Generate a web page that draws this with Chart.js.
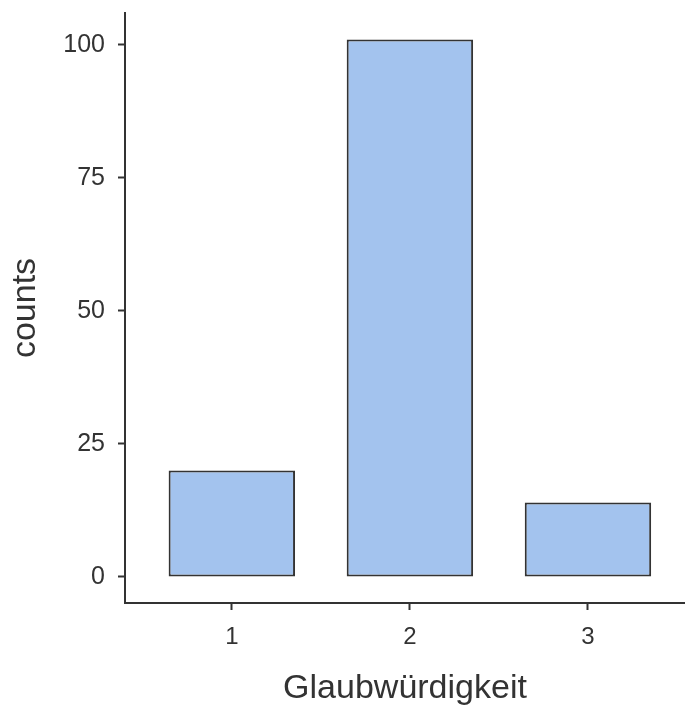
<!DOCTYPE html>
<html>
<head>
<meta charset="utf-8">
<script src="https://cdn.jsdelivr.net/npm/chart.js@4"></script>
<style>
  html, body { margin: 0; padding: 0; background: #fff; }
  #wrap { width: 685px; height: 707px; }
</style>
</head>
<body>
<div id="wrap"><canvas id="chart"></canvas></div>
<script>
// data
var categories = [1, 2, 3];
var counts = [20, 101, 14];
var yTickValues = [0, 25, 50, 75, 100];

var ctx = document.getElementById("chart").getContext('2d');
var chart = new Chart(ctx, {
    type: 'bar',
    data: {
        datasets: [{
            data: categories.map(function (c, i) { return { x: c, y: counts[i] }; }),
            backgroundColor: '#A3C3EE',
            borderColor: '#333333',
            borderWidth: 2,
            borderSkipped: false,
            barPercentage: 0.71,
            categoryPercentage: 1
        }]
    },
    options: {
        responsive: true,
        maintainAspectRatio: false,
        animation: false,
        layout: { padding: { top: 13, right: 0, left: 0, bottom: 0 } },
        plugins: {
            legend: { display: false },
            tooltip: { enabled: false }
        },
        scales: {
            x: {
                type: 'linear',
                offset: false,
                min: 0.4,
                max: 3.545,
                afterBuildTicks: function (axis) {
                    axis.ticks = categories.map(function (v) { return { value: v }; });
                },
                afterFit: function (axis) {
                    axis.height = 104;
                    axis.paddingLeft = 0;
                    axis.paddingRight = 0;
                },
                grid: {
                    offset: false,
                    drawOnChartArea: false,
                    drawTicks: true,
                    tickLength: 7,
                    tickWidth: 2,
                    tickColor: '#333333'
                },
                border: { display: true, color: '#333333', width: 2 },
                ticks: {
                    padding: 13,
                    color: '#333333',
                    font: { family: 'Liberation Sans', size: 24 }
                },
                title: {
                    display: true,
                    text: 'Glaubwürdigkeit',
                    color: '#333333',
                    font: { family: 'Liberation Sans', size: 34 },
                    padding: { top: 0, bottom: -2 }
                }
            },
            y: {
                min: -4.9,
                max: 106,
                afterBuildTicks: function (axis) {
                    axis.ticks = yTickValues.map(function (v) { return { value: v }; });
                },
                afterFit: function (axis) {
                    axis.width = 125;
                    axis.paddingTop = 0;
                    axis.paddingBottom = 0;
                },
                grid: {
                    drawOnChartArea: false,
                    drawTicks: true,
                    tickLength: 7,
                    tickWidth: 2,
                    tickColor: '#333333'
                },
                border: { display: true, color: '#333333', width: 2 },
                ticks: {
                    padding: 13,
                    color: '#333333',
                    font: { family: 'Liberation Sans', size: 25 }
                },
                title: {
                    display: true,
                    text: 'counts',
                    color: '#333333',
                    font: { family: 'Liberation Sans', size: 34 },
                    padding: { top: 5, bottom: 0 }
                }
            }
        }
    }
});
</script>
</body>
</html>
